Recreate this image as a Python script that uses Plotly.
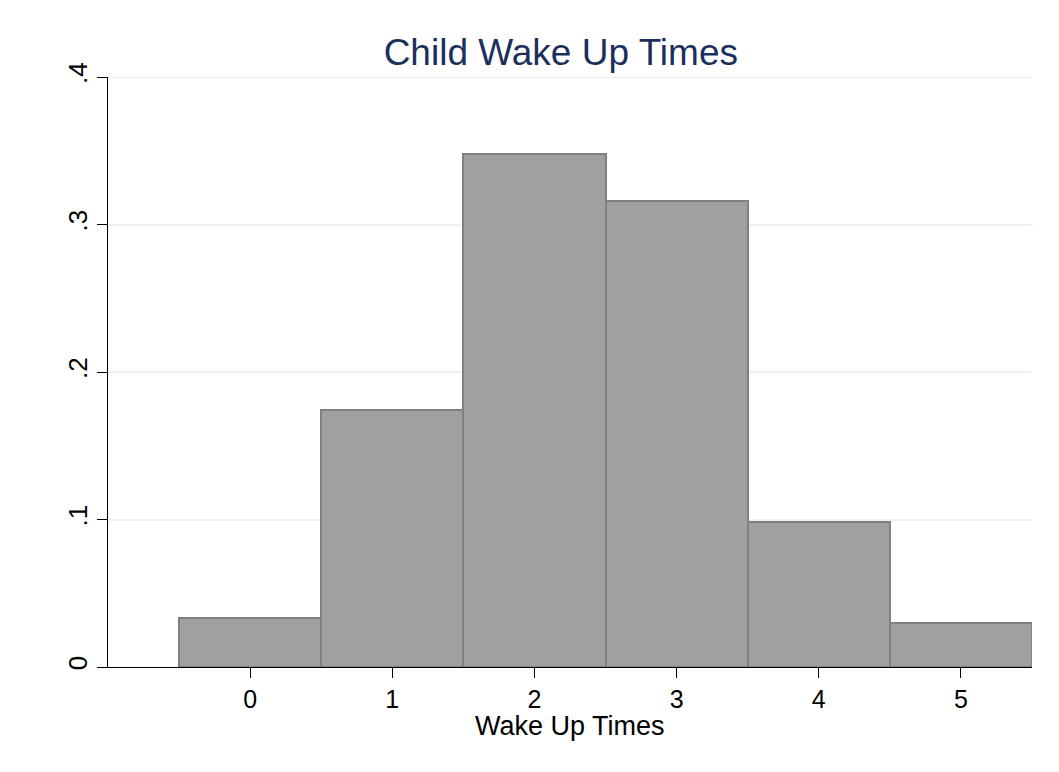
import plotly.graph_objects as go

wake_up_times = [0, 1, 2, 3, 4, 5]
density = [0.033, 0.174, 0.348, 0.316, 0.098, 0.030]
y_ticks = [0, 0.1, 0.2, 0.3, 0.4]
y_tick_labels = ["0", ".1", ".2", ".3", ".4"]
x_ticks = [0, 1, 2, 3, 4, 5]

fig = go.Figure()
fig.add_trace(go.Bar(
    x=wake_up_times, y=density, width=1,
    marker=dict(color="#a0a0a0", line=dict(color="#808080", width=2)),
    hoverinfo="x+y",
))

fig.update_layout(
    width=1051, height=764,
    paper_bgcolor="white", plot_bgcolor="white",
    margin=dict(l=100, r=27, t=69, b=105),
    font=dict(family="Liberation Sans, Arial, sans-serif", color="#000000"),
    title=dict(text="Child Wake Up Times", x=0.526, xanchor="center", y=0.942, yanchor="middle",
               font=dict(size=37, color="#1c2f5c")),
    showlegend=False, bargap=0,
)
fig.add_shape(type="line", xref="paper", yref="y", x0=0, x1=1, y0=0.4, y1=0.4,
              line=dict(color="#eaf2f3", width=2), layer="below")
fig.add_annotation(text="Wake Up Times", xref="paper", yref="paper", x=0.5, y=0,
                   xanchor="center", yanchor="middle", yshift=-59, showarrow=False,
                   font=dict(size=27, color="#000"))
fig.update_xaxes(
    range=[-1, 5.5], tickvals=x_ticks, ticks="outside", ticklen=10, tickcolor="#000",
    showline=True, linecolor="#000", linewidth=1, showgrid=False, zeroline=False,
    tickfont=dict(size=25),
)
fig.update_yaxes(
    range=[0, 0.4], tickvals=y_ticks, ticktext=y_tick_labels, tickangle=-90,
    ticks="outside", ticklen=10, tickcolor="#000",
    showline=True, linecolor="#000", linewidth=1,
    showgrid=True, gridcolor="#eaf2f3", gridwidth=2, zeroline=False,
    tickfont=dict(size=26),
)
fig.write_html("out.html")
